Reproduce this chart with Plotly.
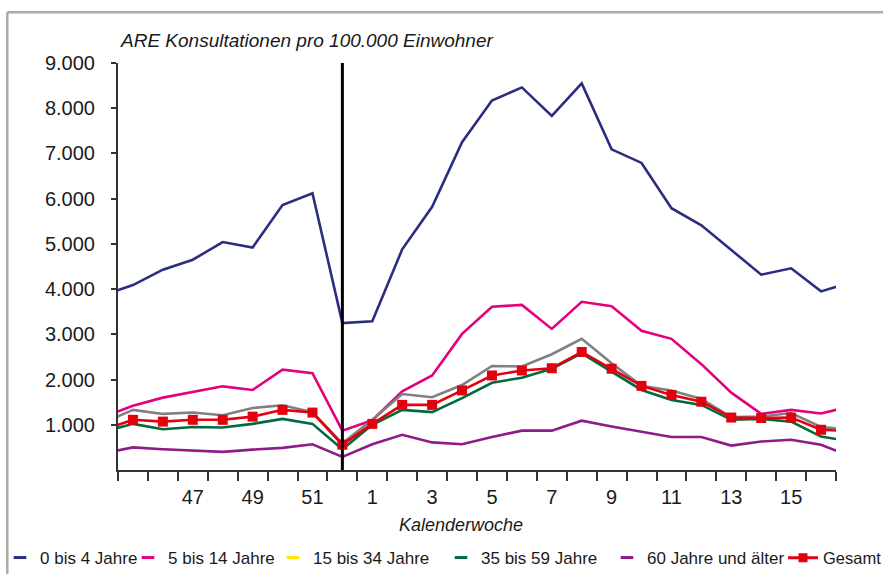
import plotly.graph_objects as go

# Kalenderwochen (44 and 17 are only partly visible at the plot edges)
weeks = [44, 45, 46, 47, 48, 49, 50, 51, 52,
         1, 2, 3, 4, 5, 6, 7, 8, 9, 10, 11, 12, 13, 14, 15, 16, 17]
week_labels = [47, 49, 51, 1, 3, 5, 7, 9, 11, 13, 15]
year_break_week = 52

age_0_4 = [3870, 4090, 4430, 4650, 5040, 4920, 5860, 6120, 3250,
           3290, 4880, 5820, 7250, 8170, 8460, 7830, 8550, 7090, 6790, 5790, 5410, 4860, 4320, 4460, 3950, 4150]
age_5_14 = [1170, 1420, 1600, 1720, 1850, 1770, 2220, 2140, 870,
            1100, 1740, 2090, 3010, 3610, 3650, 3120, 3720, 3620, 3080, 2900, 2340, 1710, 1240, 1330, 1250, 1410]
age_15_34 = [1040, 1330, 1240, 1270, 1210, 1370, 1430, 1280, 590,
             1110, 1680, 1610, 1880, 2300, 2290, 2560, 2900, 2360, 1860, 1760, 1570, 1170, 1180, 1260, 950, 890]
age_35_59 = [840, 1020, 900, 950, 940, 1020, 1130, 1020, 460,
             1000, 1330, 1280, 1590, 1930, 2040, 2240, 2580, 2180, 1770, 1550, 1440, 1110, 1130, 1070, 740, 630]
age_60 = [370, 500, 460, 430, 400, 450, 490, 570, 290,
          570, 780, 610, 570, 730, 870, 870, 1090, 960, 840, 730, 730, 540, 630, 670, 560, 300]
gesamt = [890, 1110, 1070, 1110, 1110, 1180, 1330, 1270, 560,
          1020, 1440, 1440, 1760, 2090, 2200, 2250, 2610, 2240, 1860, 1660, 1510, 1160, 1150, 1160, 890, 860]

y_tick_values = [1000, 2000, 3000, 4000, 5000, 6000, 7000, 8000, 9000]
y_tick_text = ["1.000", "2.000", "3.000", "4.000", "5.000", "6.000", "7.000", "8.000", "9.000"]

series_names = ["0 bis 4 Jahre", "5 bis 14 Jahre", "15 bis 34 Jahre",
                "35 bis 59 Jahre", "60 Jahre und älter", "Gesamt"]

NAVY = "#2B2D80"
MAGENTA = "#E5007D"
GREY = "#808080"
YELLOW = "#FFE500"
GREEN = "#006B3A"
PURPLE = "#8E1B86"
RED = "#E3000F"

FONT = "Liberation Sans"
W, H = 883, 574
L, R, T, B = 118, 47, 63, 104

idx = list(range(len(weeks)))
tick_idx = [i for i, w in enumerate(weeks) if w in week_labels and i > 2]
boundaries = [i + 0.5 for i in idx]
break_idx = weeks.index(year_break_week)

fig = go.Figure()

line_series = [
    (age_0_4, NAVY), (age_5_14, MAGENTA), (age_15_34, GREY),
    (age_35_59, GREEN), (age_60, PURPLE),
]
for vals, col in line_series:
    fig.add_trace(go.Scatter(x=idx, y=vals, mode="lines", showlegend=False,
                             line=dict(color=col, width=2.6)))
fig.add_trace(go.Scatter(x=idx, y=gesamt, mode="lines+markers", showlegend=False,
                         line=dict(color=RED, width=2.6),
                         marker=dict(symbol="square", size=10, color=RED)))

# legend-only entries (each in its own legend to reproduce spacing)
legend_cols = [NAVY, MAGENTA, YELLOW, GREEN, PURPLE, RED]
legend_text_x = [38, 168, 313, 481, 647, 823]
legend_font_sizes = [17, 17, 17, 17, 17, 16.5]
for k, (name, col) in enumerate(zip(series_names, legend_cols)):
    lname = "legend" if k == 0 else f"legend{k + 1}"
    if name == "Gesamt":
        fig.add_trace(go.Scatter(x=[None], y=[None], mode="lines+markers", name=name,
                                 legend=lname,
                                 line=dict(color=col, width=3),
                                 marker=dict(symbol="square", size=9, color=col)))
    else:
        fig.add_trace(go.Scatter(x=[None], y=[None], mode="markers", name=name,
                                 legend=lname,
                                 marker=dict(symbol="line-ew", size=9,
                                             line=dict(color=col, width=3))))

legend_layout = {}
for k, (tx, fs) in enumerate(zip(legend_text_x, legend_font_sizes)):
    lname = "legend" if k == 0 else f"legend{k + 1}"
    legend_layout[lname] = dict(
        xref="container", yref="container",
        x=max(tx - 40, 0) / W, xanchor="left",
        y=1 - 558 / H, yanchor="middle",
        bgcolor="rgba(0,0,0,0)", borderwidth=0,
        font=dict(family=FONT, size=fs, color="#1a1a1a"),
        itemwidth=30, tracegroupgap=0,
    )

fig.update_layout(
    width=W, height=H,
    margin=dict(l=L, r=R, t=T, b=B, autoexpand=False),
    plot_bgcolor="white", paper_bgcolor="white",
    font=dict(family=FONT, size=20, color="#1a1a1a"),
    **legend_layout,
)

fig.update_xaxes(
    range=[0.5, len(weeks) - 1.5],
    tickmode="array", tickvals=tick_idx,
    ticktext=[str(weeks[i]) for i in tick_idx],
    ticks="", ticklabelstandoff=8,
    showline=True, linecolor="#333333", linewidth=2,
    showgrid=False, zeroline=False,
    tickfont=dict(family=FONT, size=20, color="#1a1a1a"),
    minor=dict(tickmode="array", tickvals=boundaries, ticks="outside",
               ticklen=9, tickwidth=2, tickcolor="#333333", showgrid=False),
)
fig.update_yaxes(
    range=[0, 9000],
    tickmode="array", tickvals=y_tick_values, ticktext=y_tick_text,
    ticks="outside", ticklen=5, tickwidth=2, tickcolor="#333333",
    ticklabelstandoff=12,
    showline=True, linecolor="#333333", linewidth=2,
    showgrid=False, zeroline=False,
    tickfont=dict(family=FONT, size=20, color="#1a1a1a"),
)

# year-change marker line
fig.add_shape(type="line", xref="x", yref="paper",
              x0=break_idx, x1=break_idx, y0=0, y1=1,
              line=dict(color="black", width=3))

# outer frame (top and left, grey)
ph = H - T - B
pw = W - L - R
fx = (7.3 - L) / pw
fy = (470 - 12.2) / ph
fig.add_shape(type="line", xref="paper", yref="paper",
              x0=fx, x1=(W - L) / pw + 0.01, y0=fy, y1=fy,
              line=dict(color="#A8ACA5", width=2.5))
fig.add_shape(type="line", xref="paper", yref="paper",
              x0=fx, x1=fx, y0=fy, y1=(470 - H) / ph - 0.01,
              line=dict(color="#A8ACA5", width=2.5))

# chart title and axis title
fig.add_annotation(text="<i>ARE Konsultationen pro 100.000 Einwohner</i>",
                   xref="paper", yref="paper", x=0, xanchor="left",
                   y=(470 - 40) / ph, yanchor="middle", showarrow=False,
                   font=dict(family=FONT, size=19, color="#1a1a1a"))
fig.add_annotation(text="<i>Kalenderwoche</i>",
                   xref="paper", yref="paper", x=(461 - L) / pw, xanchor="center",
                   y=(470 - 525) / ph, yanchor="middle", showarrow=False,
                   font=dict(family=FONT, size=18, color="#1a1a1a"))

# remove the default page margin so the figure fills the window exactly
fig.write_html("out.html",
               config={"displayModeBar": False},
               post_script="document.body.style.margin='0px';"
                           "document.body.style.overflow='hidden';")
